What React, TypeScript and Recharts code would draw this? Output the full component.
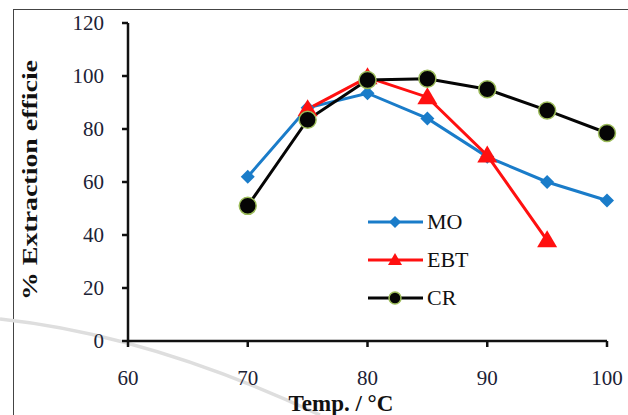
import { LineChart, Line, XAxis, YAxis } from "recharts"

const temps = [70, 75, 80, 85, 90, 95, 100]
const moValues = [62, 88, 93.5, 84, 69.5, 60, 53]
const ebtValues = [null, 87.5, 99.5, 92, 70, 38, null]
const crValues = [51, 83.5, 98.5, 99, 95, 87, 78.5]
const xTicks = [60, 70, 80, 90, 100]
const yTicks = [0, 20, 40, 60, 80, 100, 120]

const data = temps.map((t, i) => ({
  temp: t,
  MO: moValues[i],
  EBT: ebtValues[i],
  CR: crValues[i],
}))

const FONT = "Liberation Serif"
const BLUE = "#1a7cc9"
const RED = "#ff1010"
const BLACK = "#050505"
const RIM = "#9bbb59"
const AXIS = "#111"
const TICK_TEXT = "#1c2235"

function Diamond(props: any) {
  const { cx, cy, r = 7 } = props
  if (cx == null || cy == null) return null
  return <path d={`M${cx},${cy - r}L${cx + r},${cy}L${cx},${cy + r}L${cx - r},${cy}Z`} fill={BLUE} />
}

function Triangle(props: any) {
  const { cx, cy, r = 8 } = props
  if (cx == null || cy == null || props.value == null) return null
  return <path d={`M${cx},${cy - r}L${cx + r},${cy + r * 0.7}L${cx - r},${cy + r * 0.7}Z`} fill={RED} />
}

function Circle(props: any) {
  const { cx, cy, r = 7 } = props
  if (cx == null || cy == null) return null
  return <circle cx={cx} cy={cy} r={r} fill={BLACK} stroke={RIM} strokeWidth={1.5} />
}

const legendItems = [
  { name: "MO", color: BLUE, Marker: Diamond, r: 6 },
  { name: "EBT", color: RED, Marker: Triangle, r: 7 },
  { name: "CR", color: BLACK, Marker: Circle, r: 6 },
]

function LegendBox() {
  return (
    <div style={{ position: "absolute", left: 368, top: 203, fontFamily: FONT }}>
      {legendItems.map(({ name, color, Marker, r }) => (
        <div key={name} style={{ display: "flex", alignItems: "center", height: 38 }}>
          <svg width={56} height={20}>
            <line x1={0} y1={10} x2={55} y2={10} stroke={color} strokeWidth={3} />
            <Marker cx={27} cy={10} r={r} value={1} />
          </svg>
          <span style={{ fontSize: 22, color: "#111", marginLeft: 3 }}>{name}</span>
        </div>
      ))}
    </div>
  )
}

export default function App() {
  return (
    <div style={{ position: "absolute", left: 0, top: 0, width: 628, height: 415, background: "#fff", overflow: "hidden" }}>
      <div
        style={{
          position: "absolute",
          left: 13,
          top: 9,
          width: 640,
          height: 420,
          borderLeft: "1.5px solid #444",
          borderTop: "1.5px solid #444",
        }}
      />
      <svg width={628} height={415} style={{ position: "absolute", left: 0, top: 0 }}>
        <path d="M0,319 Q150,335 320,415" fill="none" stroke="#dedede" strokeWidth={3.5} />
      </svg>
      <LineChart
        width={628}
        height={415}
        data={data}
        margin={{ top: 23, right: 21, bottom: 0, left: 0 }}
        style={{ position: "absolute", left: 0, top: 0 }}
      >
        <XAxis
          dataKey="temp"
          type="number"
          domain={[60, 100]}
          ticks={xTicks}
          height={74}
          stroke={AXIS}
          axisLine={{ stroke: AXIS, strokeWidth: 2.5 }}
          tickLine={{ stroke: AXIS, strokeWidth: 2.5 }}
          tickSize={6}
          tickMargin={23}
          tick={{ fill: TICK_TEXT, fontSize: 21, fontFamily: FONT }}
          label={{
            content: () => (
              <text x={341} y={411} textAnchor="middle" fontFamily={FONT} fontWeight="bold" fontSize={23} fill="#111">
                Temp. / °C
              </text>
            ),
          }}
        />
        <YAxis
          type="number"
          domain={[0, 120]}
          ticks={yTicks}
          width={128}
          interval={0}
          stroke={AXIS}
          axisLine={{ stroke: AXIS, strokeWidth: 2.5 }}
          tickLine={{ stroke: AXIS, strokeWidth: 2.5 }}
          tickSize={6}
          tickMargin={18}
          tick={{ fill: TICK_TEXT, fontSize: 21, fontFamily: FONT }}
          label={{
            content: () => (
              <text
                x={0}
                y={0}
                transform="translate(37 180) rotate(-90)"
                textAnchor="middle"
                fontFamily={FONT}
                fontWeight="bold"
                fontSize={22}
                textLength={240}
                lengthAdjust="spacingAndGlyphs"
                fill="#111"
              >
                % Extraction efficie
              </text>
            ),
          }}
        />
        <Line
          dataKey="MO"
          stroke={BLUE}
          strokeWidth={3}
          dot={(p: any) => <Diamond key={`mo-${p.index}`} cx={p.cx} cy={p.cy} r={7} />}
          activeDot={false}
          isAnimationActive={false}
        />
        <Line
          dataKey="EBT"
          stroke={RED}
          strokeWidth={3}
          connectNulls
          dot={(p: any) => <Triangle key={`ebt-${p.index}`} cx={p.cx} cy={p.cy} value={p.value} r={10} />}
          activeDot={false}
          isAnimationActive={false}
        />
        <Line
          dataKey="CR"
          stroke={BLACK}
          strokeWidth={3}
          dot={(p: any) => <Circle key={`cr-${p.index}`} cx={p.cx} cy={p.cy} r={8.5} />}
          activeDot={false}
          isAnimationActive={false}
        />
      </LineChart>
      <LegendBox />
    </div>
  )
}
